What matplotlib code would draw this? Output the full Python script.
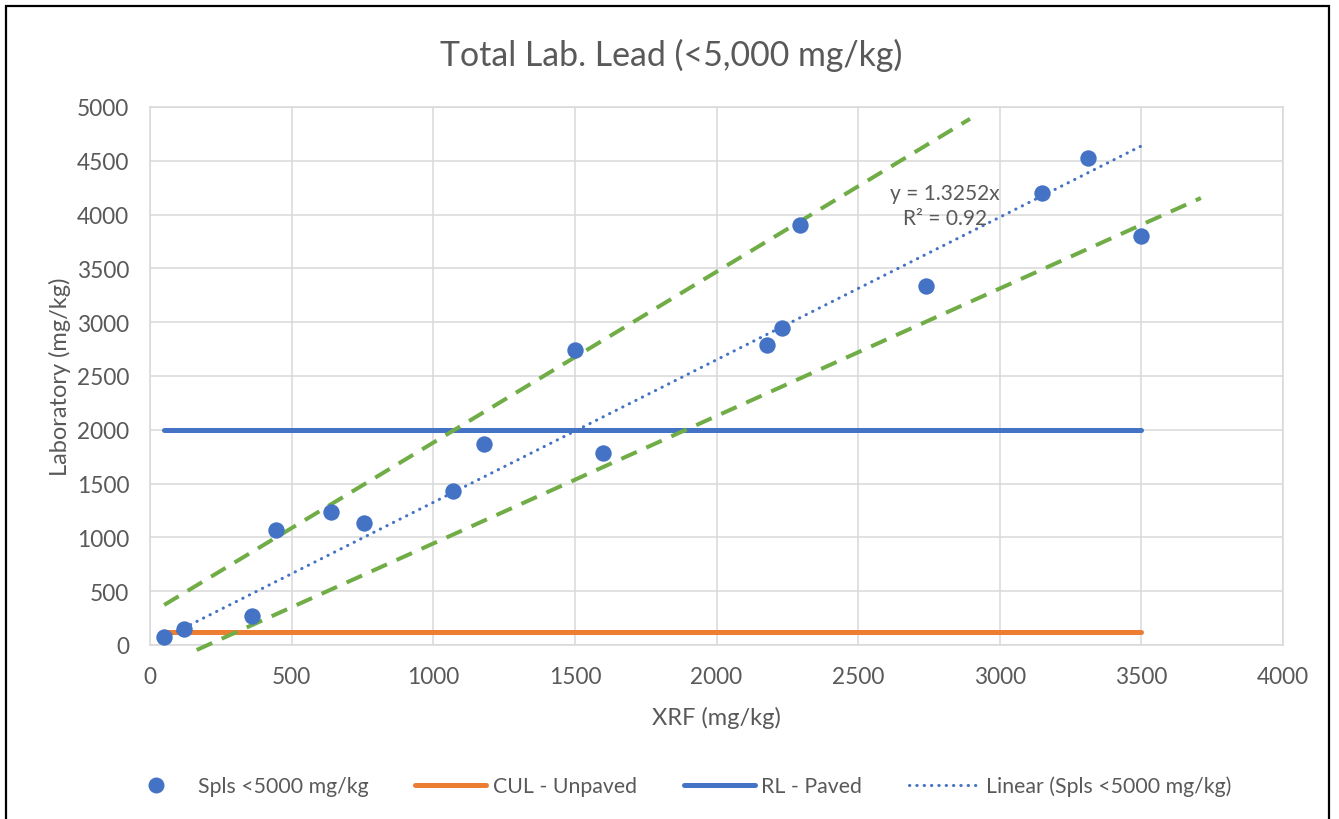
import matplotlib
matplotlib.use("Agg")
import matplotlib.pyplot as plt
from matplotlib.lines import Line2D
from matplotlib.patches import Rectangle
import numpy as np

plt.rcParams['font.family'] = ['Lato', 'DejaVu Sans']

# ---- data ----
xrf = [50, 120, 360, 445, 640, 755, 1070, 1180, 1500, 1600, 2180, 2230, 2295, 2740, 3150, 3310, 3500]
lab = [70, 150, 270, 1070, 1240, 1130, 1430, 1870, 2740, 1780, 2790, 2950, 3900, 3340, 4200, 4530, 3800]

cul_x = [50, 3500]
cul_y = [120, 120]
rl_x = [50, 3500]
rl_y = [2000, 2000]

slope = 1.3252
r2 = 0.92

upper_x = [50, 2895]
upper_y = [372, 4890]
lower_x = [165, 3710]
lower_y = [-46, 4154]

xticks = [0, 500, 1000, 1500, 2000, 2500, 3000, 3500, 4000]
yticks = [0, 500, 1000, 1500, 2000, 2500, 3000, 3500, 4000, 4500, 5000]

title = "Total Lab. Lead (<5,000 mg/kg)"
xlabel = "XRF (mg/kg)"
ylabel = "Laboratory (mg/kg)"
labels = ["Spls <5000 mg/kg", "CUL - Unpaved", "RL - Paved", "Linear (Spls <5000 mg/kg)"]

# ---- styles ----
BLUE = "#4472C4"
ORANGE = "#ED7D31"
GREEN = "#70AD47"
GRID = "#D9D9D9"
TXT = "#595959"
DOTS = (0, (0.1, 2.3))

W, H = 1339, 820
fig = plt.figure(figsize=(W / 100, H / 100), dpi=100)
ax = fig.add_axes([150 / W, 1 - 646 / H, (1283 - 150) / W, (646 - 108) / H])

ax.set_xlim(0, 4000)
ax.set_ylim(0, 5000)
ax.set_xticks(xticks)
ax.set_yticks(yticks)
ax.grid(True, color=GRID, linewidth=1.1, zorder=0)
ax.set_axisbelow(True)
for s in ax.spines.values():
    s.set_color(GRID)
    s.set_linewidth(1.1)
ax.tick_params(length=0, labelsize=16.3, labelcolor=TXT)
ax.tick_params(axis='x', pad=15)
ax.tick_params(axis='y', pad=15)

# lines
ax.plot(cul_x, cul_y, color=ORANGE, linewidth=3.6, solid_capstyle='round', zorder=3)
ax.plot(rl_x, rl_y, color=BLUE, linewidth=3.6, solid_capstyle='round', zorder=3)
ax.plot(upper_x, upper_y, color=GREEN, linewidth=2.9, linestyle=(0, (4.2, 2.6)), zorder=4, clip_on=False)
ax.plot(lower_x, lower_y, color=GREEN, linewidth=2.9, linestyle=(0, (4.2, 2.6)), zorder=4, clip_on=False)

tx = np.array([min(xrf), max(xrf)])
ax.plot(tx, slope * tx, color=BLUE, linewidth=2.2, linestyle=DOTS,
        dash_capstyle='round', zorder=4)

ax.scatter(xrf, lab, s=11.8 ** 2, color=BLUE, zorder=5, linewidths=0)

ax.text(2806, 4085, f"y = {slope}x\nR² = {r2}", ha='center', va='center',
        fontsize=15, color=TXT, linespacing=1.3, zorder=6)

ax.set_xlabel(xlabel, fontsize=17, color=TXT, va='center')
ax.xaxis.set_label_coords(0.5, (646 - 718) / 538)
ax.set_ylabel(ylabel, fontsize=17, color=TXT, va='center')
ax.yaxis.set_label_coords((60 - 150) / 1133, 0.5)
fig.text(671 / W, 1 - 55 / H, title, ha='center', va='center', fontsize=24.4, color=TXT)

handles = [
    Line2D([], [], marker='o', linestyle='none', markersize=11.5, color=BLUE, markeredgewidth=0),
    Line2D([], [], color=ORANGE, linewidth=3.6, solid_capstyle='round'),
    Line2D([], [], color=BLUE, linewidth=3.6, solid_capstyle='round'),
    Line2D([], [], color=BLUE, linewidth=2.2, linestyle=DOTS, dash_capstyle='round'),
]
fig.legend(handles, labels, loc='center', bbox_to_anchor=(676 / W, 1 - 787 / H), ncol=4,
           frameon=False, fontsize=15.3, labelcolor=TXT, handlelength=3.34,
           handletextpad=0.3, columnspacing=2.2)

# outer border
fig.add_artist(Rectangle((6 / W, -0.01), (1329 - 6) / W, 1 - 7 / H + 0.01,
                         transform=fig.transFigure, fill=False, edgecolor='black',
                         linewidth=1.6, clip_on=False))

fig.savefig("out.png", dpi=100, facecolor='white')
